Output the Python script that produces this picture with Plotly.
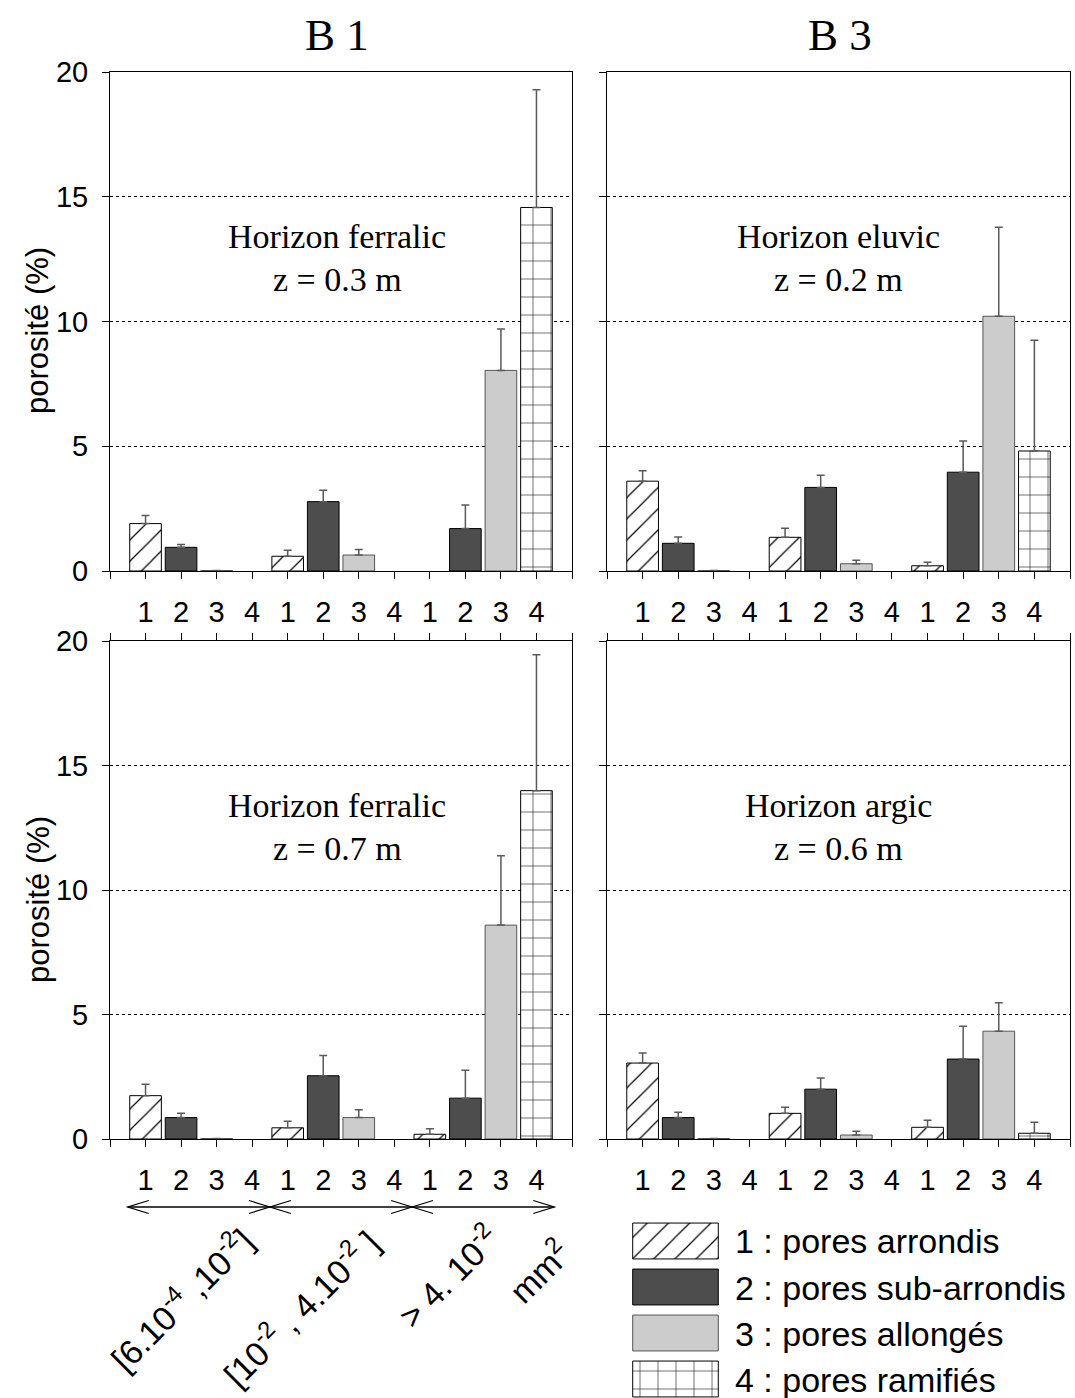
import plotly.graph_objects as go

W, H = 1075, 1398
OFF = 0  # body margin removed by the post script below

# ---------------- data ----------------
type_digits = ["1", "2", "3", "4"]
type_names = ["1 : pores arrondis", "2 : pores sub-arrondis",
              "3 : pores allongés", "4 : pores ramifiés"]
size_classes = ["[6.10<sup>-4</sup> ,10<sup>-2</sup>]",
                "[10<sup>-2</sup> , 4.10<sup>-2</sup> ]",
                "> 4. 10<sup>-2</sup>",
                "mm<sup>2</sup>"]
profiles = ["B 1", "B 3"]
horizons_top = ["Horizon ferralic", "Horizon eluvic"]
depths_top = ["z = 0.3 m", "z = 0.2 m"]
horizons_bottom = ["Horizon ferralic", "Horizon argic"]
depths_bottom = ["z = 0.7 m", "z = 0.6 m"]

# values per pore type (rows) for the 3 size classes (columns)
b1_z03 = [[1.90, 0.59, 0.00], [0.95, 2.78, 1.70], [0.02, 0.64, 8.04], [0.00, 0.00, 14.57]]
b1_z03_err = [[0.32, 0.24, 0.00], [0.11, 0.46, 0.95], [0.00, 0.22, 1.66], [0.00, 0.00, 4.72]]
b3_z02 = [[3.60, 1.35, 0.21], [1.11, 3.35, 3.96], [0.02, 0.29, 10.21], [0.00, 0.00, 4.81]]
b3_z02_err = [[0.42, 0.36, 0.14], [0.25, 0.49, 1.25], [0.00, 0.14, 3.57], [0.00, 0.00, 4.44]]
b1_z07 = [[1.74, 0.45, 0.19], [0.86, 2.54, 1.64], [0.02, 0.86, 8.59], [0.00, 0.00, 13.99]]
b1_z07_err = [[0.46, 0.26, 0.22], [0.17, 0.81, 1.12], [0.00, 0.31, 2.79], [0.00, 0.00, 5.46]]
b3_z06 = [[3.05, 1.03, 0.47], [0.86, 2.00, 3.21], [0.02, 0.16, 4.33], [0.00, 0.00, 0.23]]
b3_z06_err = [[0.40, 0.25, 0.28], [0.21, 0.45, 1.32], [0.00, 0.15, 1.14], [0.00, 0.00, 0.44]]

y_ticks = [0, 5, 10, 15, 20]

# ---------------- styles ----------------
SANS = "Liberation Sans"
SERIF = "Liberation Serif"
styles = [
    dict(color="white", line=dict(color="black", width=1),
         pattern=dict(shape="/", fgcolor="black", bgcolor="white", size=15, solidity=0.08, fillmode="replace")),
    dict(color="#4d4d4d", line=dict(color="black", width=1)),
    dict(color="#cccccc", line=dict(color="#555555", width=1)),
    dict(color="white", line=dict(color="black", width=1),
         pattern=dict(shape="+", fgcolor="black", bgcolor="white", size=18, solidity=0.06, fillmode="replace")),
]


def px_x(p):
    return (p - OFF) / W


def px_y(p):
    return 1 - (p - OFF) / H


n_types = len(type_digits)
n_groups = 3
n_cat = n_types * n_groups

panels = [
    ("", b1_z03, b1_z03_err, (110, 572), (72, 571), True, False),
    ("2", b3_z02, b3_z02_err, (607, 1070), (72, 571), False, False),
    ("3", b1_z07, b1_z07_err, (110, 572), (641, 1139), True, True),
    ("4", b3_z06, b3_z06_err, (607, 1070), (641, 1139), False, True),
]

fig = go.Figure()
layout = {}

for suf, vals, errs, (x0, x1), (y0, y1), left, bottom in panels:
    for t in range(n_types):
        xs = [t + 1 + n_types * g for g in range(n_groups)]
        ys = [v if v > 0 else None for v in vals[t]]
        es = [e if e > 0 else None for e in errs[t]]
        fig.add_trace(go.Bar(
            x=xs, y=ys, width=0.89, marker=styles[t],
            error_y=dict(type="data", array=es, arrayminus=[0] * n_groups, symmetric=False,
                         color="#5a5a5a", thickness=1.5, width=4),
            xaxis="x" + suf, yaxis="y" + suf, showlegend=False, hoverinfo="skip"))
    layout["xaxis" + suf] = dict(
        domain=[px_x(x0), px_x(x1)], range=[0, n_cat + 1], anchor="y" + suf,
        tickvals=list(range(n_cat + 2)),
        ticktext=[""] + type_digits * n_groups + [""],
        ticks="outside", ticklen=7, tickcolor="black", tickwidth=1,
        showline=True, linecolor="black", linewidth=1,
        mirror="ticks" if bottom else True,
        showgrid=False, zeroline=False, automargin=False,
        tickfont=dict(family=SANS, size=29, color="black"),
        ticklabelstandoff=8)
    layout["yaxis" + suf] = dict(
        domain=[px_y(y1), px_y(y0)], range=[0, 20], anchor="x" + suf,
        tickvals=y_ticks, ticks="outside", ticklen=7, tickcolor="black",
        showticklabels=left,
        showline=True, linecolor="black", linewidth=1, mirror=True,
        showgrid=True, gridcolor="black", griddash="dot", gridwidth=1,
        zeroline=False, automargin=False,
        tickfont=dict(family=SANS, size=29, color="black"),
        ticklabelstandoff=8)

# legend swatches drawn on a small helper axis (46 px per slot)
for t in range(n_types):
    fig.add_trace(go.Bar(
        x=[1], y=[t], base=0, orientation="h", width=0.78, marker=styles[t],
        xaxis="x5", yaxis="y5", showlegend=False, hoverinfo="skip"))
layout["xaxis5"] = dict(domain=[px_x(631), px_x(720)], range=[-0.02, 1.02], visible=False,
                        anchor="y5", automargin=False)
layout["yaxis5"] = dict(domain=[0, px_y(1218)], range=[-0.5 + (H + OFF - 1218) / 46, -0.5],
                        visible=False, anchor="x5", automargin=False)

annotations = []


def ann(text, x, y, size, family, **kw):
    d = dict(text=text, x=px_x(x), y=px_y(y), xref="paper", yref="paper",
             showarrow=False, font=dict(family=family, size=size, color="black"),
             xanchor=kw.pop("xanchor", "center"), yanchor=kw.pop("yanchor", "middle"))
    d.update(kw)
    annotations.append(d)


ann(profiles[0], 337, 35, 45, SERIF)
ann(profiles[1], 840, 35, 45, SERIF)
ann(horizons_top[0], 337, 236, 34, SERIF)
ann(depths_top[0], 337, 279, 34, SERIF)
ann(horizons_top[1], 838, 236, 34, SERIF)
ann(depths_top[1], 838, 279, 34, SERIF)
ann(horizons_bottom[0], 337, 805, 34, SERIF)
ann(depths_bottom[0], 337, 848, 34, SERIF)
ann(horizons_bottom[1], 838, 805, 34, SERIF)
ann(depths_bottom[1], 838, 848, 34, SERIF)
ann("porosité (%)", 38, 331, 31, SANS, textangle=-90)
ann("porosité (%)", 38, 900, 31, SANS, textangle=-90)

label_pos = [(180, 1298), (299, 1307), (447, 1275), (538, 1270)]
for txt, (lx, ly) in zip(size_classes, label_pos):
    ann(txt, lx, ly, 34, SANS, textangle=-45)

legend_y = [1241, 1288, 1334, 1380]
for name, ly in zip(type_names, legend_y):
    ann(name, 733, ly, 34, SANS, xanchor="left")

# size-class arrows under bottom-left panel
shapes = []
ya = px_y(1207)
yt = px_y(1200.5)
yb = px_y(1213.5)
hw = 0.59
lo, hi = 0.5, n_cat + 0.5
line = dict(color="black", width=1.3)
shapes.append(dict(type="line", xref="x3", yref="paper", x0=lo, x1=hi, y0=ya, y1=ya, line=line))
shapes.append(dict(type="path", xref="x3", yref="paper",
                   path=f"M {lo+hw},{yt} L {lo},{ya} L {lo+hw},{yb}", line=line))
shapes.append(dict(type="path", xref="x3", yref="paper",
                   path=f"M {hi-hw},{yt} L {hi},{ya} L {hi-hw},{yb}", line=line))
for g in range(1, n_groups):
    b = g * n_types + 0.5
    shapes.append(dict(type="line", xref="x3", yref="paper", x0=b - hw, x1=b + hw, y0=yt, y1=yb, line=line))
    shapes.append(dict(type="line", xref="x3", yref="paper", x0=b - hw, x1=b + hw, y0=yb, y1=yt, line=line))

fig.update_layout(
    width=W, height=H, margin=dict(l=0, r=0, t=0, b=0, pad=0, autoexpand=False),
    paper_bgcolor="white", plot_bgcolor="white",
    barmode="overlay", annotations=annotations, shapes=shapes,
    **layout)

fig.write_html("out.html",
               config={"displayModeBar": False},
               post_script="document.body.style.margin='0px';document.body.style.overflow='hidden';")
